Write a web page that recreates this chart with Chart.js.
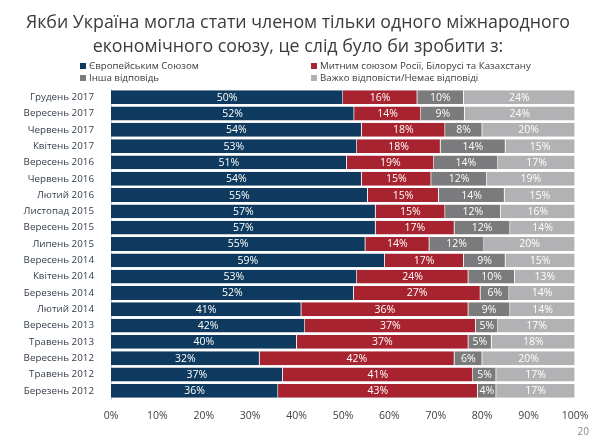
<!DOCTYPE html>
<html>
<head>
<meta charset="utf-8">
<script src="https://cdn.jsdelivr.net/npm/chart.js@4"></script>
<style>
  body { margin: 0; background: #fff; font-family: "Open Sans", sans-serif; }
  #wrap { position: relative; width: 596px; height: 441px; }
  #title { position: absolute; left: 0; top: 9px; width: 596px; text-align: center;
    font-size: 17.8px; line-height: 24px; color: #3b3b3b; }
  .lg { position: absolute; font-size: 9.7px; color: #3b3b3b; white-space: nowrap; }
  .lg i { display: inline-block; width: 6px; height: 6px; margin-right: 3px; }
  #page { position: absolute; right: 7px; top: 424px; font-size: 10px; color: #888; }
</style>
</head>
<body>
<div id="wrap">
  <div id="title">Якби Україна могла стати членом тільки одного міжнародного<br>економічного союзу, це слід було би зробити з:</div>
  <div id="legend"></div>
  <canvas id="myChart" width="596" height="441"></canvas>
  <div id="page">20</div>
</div>
<script>
const chart = document.getElementById("myChart")

const categories = ['Грудень 2017','Вересень 2017','Червень 2017','Квітень 2017','Вересень 2016','Червень 2016','Лютий 2016',
  'Листопад 2015','Вересень 2015','Липень 2015','Вересень 2014','Квітень 2014','Березень 2014','Лютий 2014',
  'Вересень 2013','Травень 2013','Вересень 2012','Травень 2012','Березень 2012']
const seriesNames = ['Європейським Союзом','Митним союзом Росії, Білорусі та Казахстану','Інша відповідь','Важко відповісти/Немає відповіді']
// segment widths estimated from the slide (labels show them rounded)
const euValues      = [50,52.4,54,53,50.8,54,55.3,57,57,54.8,59,53,52.3,41,41.8,40,32,37,36]
const customsValues = [16,14.4,18,18,18.8,15,15.3,15,17,13.8,17,24,27.3,36,36.8,37,42,41,43]
const otherValues   = [10,9.4,8,14,13.8,12,14.2,12,12,11.8,9,10,6.2,9,4.8,5,6,5,4]
const hardValues    = [24,23.8,20,15,16.6,19,15.2,16,14,19.6,15,13,14.2,14,16.6,18,20,17,17]
const tickLabels = ['0%','10%','20%','30%','40%','50%','60%','70%','80%','90%','100%']

const colors = ['#0d3a5e','#a6232f','#7b7b7d','#b2b2b4']
const allValues = [euValues, customsValues, otherValues, hardValues]

// legend in two columns like the slide
const legendPos = [[80,59],[311,59],[80,71],[311,71]]
const legend = document.getElementById('legend')
seriesNames.forEach((n,i) => {
  const d = document.createElement('div')
  d.className = 'lg'
  d.style.left = legendPos[i][0] + 'px'
  d.style.top = legendPos[i][1] + 'px'
  d.innerHTML = '<i style="background:' + colors[i] + '"></i>' + n
  legend.appendChild(d)
})

const barLabels = {
  id: 'barLabels',
  afterDatasetsDraw(c) {
    const ctx = c.ctx
    ctx.save()
    ctx.font = '10.5px "Open Sans"'
    ctx.fillStyle = '#fff'
    ctx.textAlign = 'center'
    ctx.textBaseline = 'middle'
    c.data.datasets.forEach((ds, i) => {
      c.getDatasetMeta(i).data.forEach((bar, j) => {
        const x = (bar.x + bar.base) / 2
        ctx.fillText(Math.round(ds.data[j]) + '%', x, bar.y + 0.5)
      })
    })
    ctx.restore()
  }
}

const myData = {
  labels: categories,
  datasets: allValues.map((vals, i) => ({
    label: seriesNames[i],
    data: vals,
    backgroundColor: colors[i],
    borderColor: '#ffffff',
    borderWidth: {left: 0, right: 0.6, top: 0, bottom: 0},
    borderSkipped: false,
    barPercentage: 0.85,
    categoryPercentage: 1
  }))
}

const myConfig = {
  type: 'bar',
  data: myData,
  options: {
    indexAxis: 'y',
    responsive: false,
    animation: false,
    layout: {padding: {top: 89, right: 21, bottom: 22, left: 0}},
    scales: {
      x: {
        stacked: true, min: 0, max: 100,
        grid: {display: false},
        border: {display: false},
        ticks: {stepSize: 10, color: '#404040', font: {size: 10.5, family: 'Open Sans'},
          callback: (v, i) => tickLabels[i]},
        afterFit: s => { s.height = 20 }
      },
      y: {
        stacked: true,
        grid: {display: false},
        border: {color: '#d0d0d0'},
        ticks: {color: '#333d48', font: {size: 9.8, family: 'Open Sans'}, padding: 9},
        afterFit: s => { s.width = 111 }
      }
    },
    plugins: {
      legend: {display: false},
      tooltip: {enabled: false}
    }
  },
  plugins: [barLabels]
}

new Chart(chart, myConfig)
</script>
</body>
</html>
